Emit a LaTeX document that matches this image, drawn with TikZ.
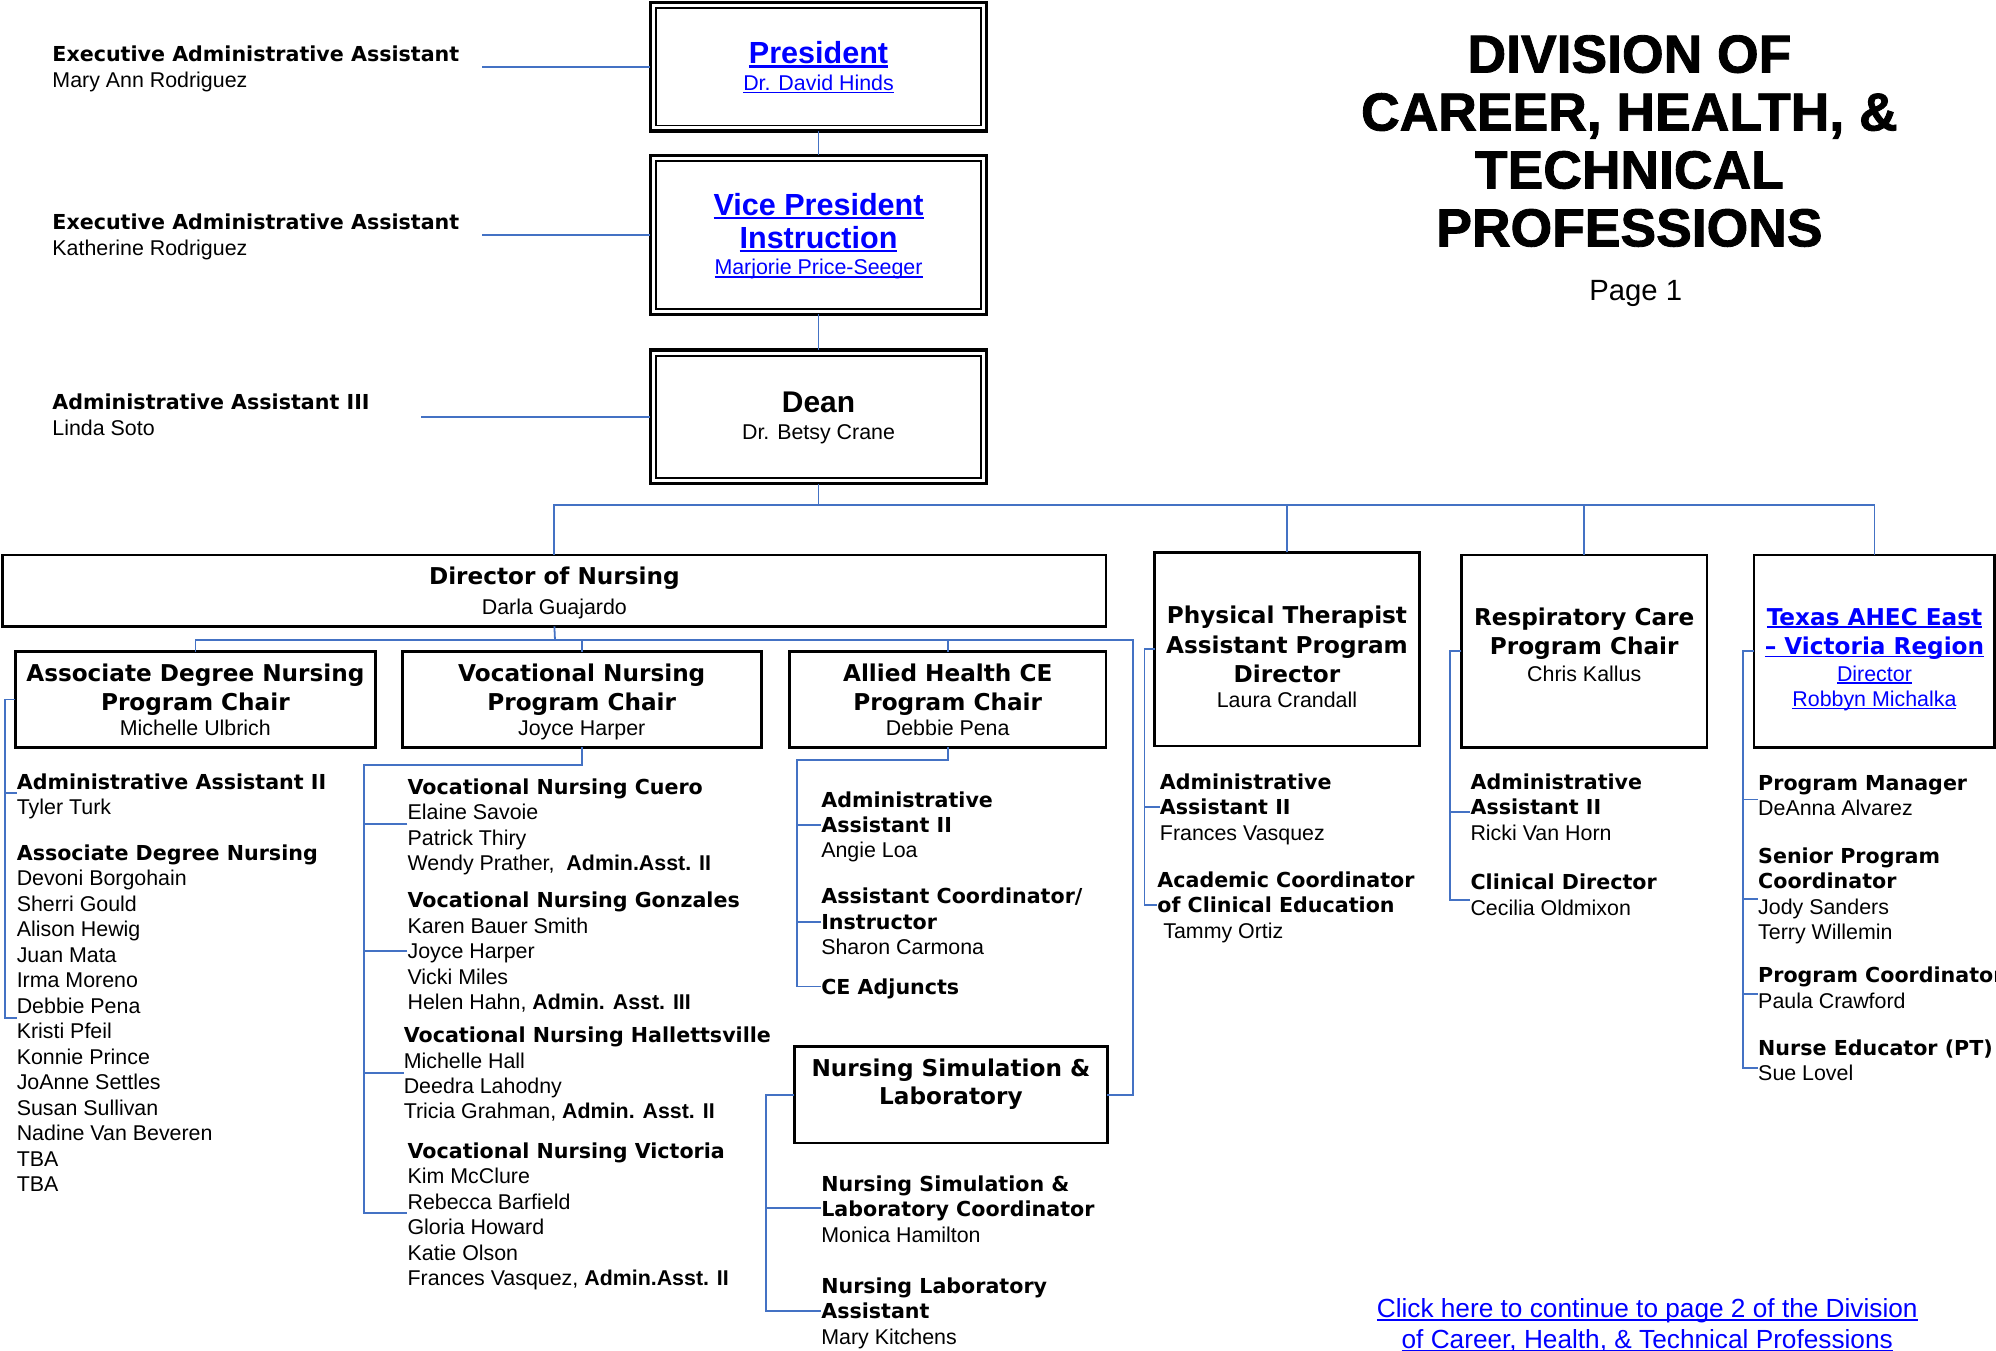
\documentclass[tikz,border=0pt]{standalone}
\usepackage{fontspec}
\setmainfont{Liberation Sans}
\newfontfamily\dv{DejaVu Sans}
\newfontfamily\heavy{Liberation Sans Bold}[FakeBold=1.6]
\definecolor{orgline}{RGB}{68,114,196}
\definecolor{linkblue}{RGB}{0,0,255}
% type sizes (1pt = one unit of the drawing grid)
\newcommand\fbody{\fontsize{16.8}{20}\selectfont}
\newcommand\fhd{\dv\bfseries\fontsize{16.2}{20}\selectfont}
\newcommand\fbh{\dv\bfseries\fontsize{18.2}{23}\selectfont}
% underlined hyperlink look
\newcommand\lk[1]{\setbox0\hbox{#1}\rlap{\rule[-0.13em]{\wd0}{0.07em}}\box0}
\newcommand\Lt[1]{\begin{tabular}[t]{@{}l@{}}#1\end{tabular}}
\newcommand\Ct[1]{\begin{tabular}[t]{@{}c@{}}#1\end{tabular}}
\tikzset{
  conn/.style={draw=orgline, line width=1.4pt},
  sbox/.style={draw=black, line width=2pt, inner sep=0pt, outer sep=0pt},
  dbox/.style={draw=black, line width=2.6pt, inner sep=0pt, outer sep=0pt},
  txt/.style={anchor=base west, inner sep=0pt, font=\fbody},
  ctxt/.style={anchor=base, inner sep=0pt, font=\fbody},
}
\newcommand\innerframe[1]{\draw[line width=1.3pt]
  ([shift={(4.5pt,-4.5pt)}]#1.north west) rectangle ([shift={(-4.5pt,4.5pt)}]#1.south east);}
\begin{document}
\begin{tikzpicture}[x=1pt,y=-1pt]
\fill[white] (0,0) rectangle (1568,1061);
\useasboundingbox (0,0) rectangle (1568,1061);
\clip (0,0) rectangle (1568,1061);

% ---------- executive boxes ----------
\node[dbox, minimum width=264pt, minimum height=101pt] (pres) at (643,52.5) {};
\node[dbox, minimum width=264pt, minimum height=125pt] (vp) at (643,184.5) {};
\node[dbox, minimum width=264pt, minimum height=105pt] (dean) at (643,327.5) {};
\innerframe{pres}\innerframe{vp}\innerframe{dean}

\node[ctxt, text=linkblue, font=\bfseries\fontsize{24}{26}\selectfont] (presH) at (643,50) {\lk{President}};
\node[ctxt, text=linkblue] (presN) at (643,71) {\lk{Dr. David Hinds}};
\node[ctxt, text=linkblue, font=\bfseries\fontsize{24}{26}\selectfont] (vpH) at (643,169) {\Ct{\lk{Vice President}\\\lk{Instruction}}};
\node[ctxt, text=linkblue] (vpN) at (643,216) {\lk{Marjorie Price-Seeger}};
\node[ctxt, font=\bfseries\fontsize{23.5}{26}\selectfont] (deanH) at (643,324) {Dean};
\node[ctxt] (deanN) at (643,345) {Dr. Betsy Crane};

% ---------- staff beside the executive boxes ----------
\node[txt, font=\fontsize{16.8}{21}\selectfont] (ea1) at (41,48) {\Lt{{\fhd Executive Administrative Assistant}\\Mary Ann Rodriguez}};
\node[txt, font=\fontsize{16.8}{21}\selectfont] (ea2) at (41,180) {\Lt{{\fhd Executive Administrative Assistant}\\Katherine Rodriguez}};
\node[txt, font=\fontsize{16.8}{20}\selectfont] (aa3) at (41,322) {\Lt{{\fhd Administrative Assistant III}\\Linda Soto}};
\coordinate (ea1e) at (379,52.5);
\coordinate (ea2e) at (379,184.5);
\coordinate (aa3e) at (331,327.5);
\draw[conn] (ea1e) -- (pres.west);
\draw[conn] (ea2e) -- (vp.west);
\draw[conn] (aa3e) -- (dean.west);
\draw[conn] (pres.south) -- (vp.north);
\draw[conn] (vp.south) -- (dean.north);

% ---------- title ----------
\node[anchor=base, inner sep=0pt, font=\heavy\fontsize{42}{45.5}\selectfont] (title) at (1280,57)
  {\Ct{DIVISION OF\\CAREER, HEALTH, \&\\TECHNICAL\\PROFESSIONS}};
\node[anchor=base, inner sep=0pt, font=\fontsize{23}{27}\selectfont] (page) at (1285,236) {Page 1};

% ---------- second level ----------
\node[sbox, minimum width=867pt, minimum height=56pt] (don) at (435.5,464) {};
\node[sbox, minimum width=208pt, minimum height=152pt] (pta) at (1011,510) {};
\node[sbox, minimum width=193pt, minimum height=151pt] (rc) at (1244.5,511.5) {};
\node[sbox, minimum width=189pt, minimum height=151pt] (ahec) at (1472.5,511.5) {};

\node[ctxt, font=\fbh] (donH) at (435.5,459) {Director of Nursing};
\node[ctxt] (donN) at (435.5,483) {Darla Guajardo};
\node[ctxt, font=\fbh] (ptaH) at (1011,490) {\Ct{Physical Therapist\\Assistant Program\\Director}};
\node[ctxt] (ptaN) at (1011,556) {Laura Crandall};
\node[ctxt, font=\fbh] (rcH) at (1244.5,491) {\Ct{Respiratory Care\\Program Chair}};
\node[ctxt] (rcN) at (1244.5,535) {Chris Kallus};
\node[ctxt, font=\fbh, text=linkblue] (ahecH) at (1472.5,491) {\Ct{\lk{Texas AHEC East}\\\lk{– Victoria Region}}};
\node[ctxt, text=linkblue] (ahecN) at (1472.5,535) {\Ct{\lk{Director}\\\lk{Robbyn Michalka}}};

\coordinate (bus) at (643,397);
\draw[conn] (dean.south) -- (bus);
\draw[conn] (don.north) |- (ahec.north |- bus) -- (ahec.north);
\draw[conn] (pta.north) -- (pta.north |- bus);
\draw[conn] (rc.north) -- (rc.north |- bus);

% ---------- nursing programmes ----------
\node[sbox, minimum width=283pt, minimum height=75pt] (adn) at (153.5,549.5) {};
\node[sbox, minimum width=282pt, minimum height=75pt] (vn) at (457,549.5) {};
\node[sbox, minimum width=249pt, minimum height=75pt] (ahce) at (744.5,549.5) {};
\node[sbox, minimum width=246pt, minimum height=76pt] (ns) at (747,860) {};

\node[ctxt, font=\fbh] (adnH) at (153.5,535) {\Ct{Associate Degree Nursing\\Program Chair}};
\node[ctxt] (adnN) at (153.5,578) {Michelle Ulbrich};
\node[ctxt, font=\fbh] (vnH) at (457,535) {\Ct{Vocational Nursing\\Program Chair}};
\node[ctxt] (vnN) at (457,578) {Joyce Harper};
\node[ctxt, font=\fbh] (ahceH) at (744.5,535) {\Ct{Allied Health CE\\Program Chair}};
\node[ctxt] (ahceN) at (744.5,578) {Debbie Pena};
\node[ctxt, font=\fontsize{18.2}{22}\selectfont] (nsH) at (747,846) {\Ct{{\fbh Nursing Simulation \&}\\{\fbh Laboratory}}};

\coordinate (nbus) at (436,503);
\coordinate (nright) at (890,503);
\draw[conn] (don.south) -- (nbus);
\draw[conn] (adn.north) |- (nright) |- (ns.east);
\draw[conn] (vn.north) -- (vn.north |- nbus);
\draw[conn] (ahce.north) -- (ahce.north |- nbus);

% Associate Degree Nursing staff
\node[txt] (adnA) at (13,620) {\Lt{{\fhd Administrative Assistant II}\\Tyler Turk}};
\node[txt] (adnB) at (13,676) {\Lt{{\fhd Associate Degree Nursing}\\Devoni Borgohain\\Sherri Gould\\Alison Hewig\\Juan Mata\\Irma Moreno\\Debbie Pena\\Kristi Pfeil\\Konnie Prince\\JoAnne Settles\\Susan Sullivan\\Nadine Van Beveren\\TBA\\TBA}};
\coordinate (adnT1) at (13,623);
\coordinate (adnT2) at (13,800);
\draw[conn] (adn.west) -- ++(-8pt,0) |- (adnT2);
\draw[conn] (adnT1) -- ++(-9pt,0);

% Vocational Nursing sites
\node[txt] (vnA) at (320,624) {\Lt{{\fhd Vocational Nursing Cuero}\\Elaine Savoie\\Patrick Thiry\\Wendy Prather,\ \ \textbf{Admin.Asst. II}}};
\node[txt] (vnB) at (320,713) {\Lt{{\fhd Vocational Nursing Gonzales}\\Karen Bauer Smith\\Joyce Harper\\Vicki Miles\\Helen Hahn, \textbf{Admin. Asst. III}}};
\node[txt] (vnC) at (317,819) {\Lt{{\fhd Vocational Nursing Hallettsville}\\Michelle Hall\\Deedra Lahodny\\Tricia Grahman, \textbf{Admin. Asst. II}}};
\node[txt] (vnD) at (320,910) {\Lt{{\fhd Vocational Nursing Victoria}\\Kim McClure\\Rebecca Barfield\\Gloria Howard\\Katie Olson\\Frances Vasquez, \textbf{Admin.Asst. II}}};
\coordinate (vnT1) at (320,647);
\coordinate (vnT2) at (320,747);
\coordinate (vnT3) at (317,843);
\coordinate (vnT4) at (320,953);
\draw[conn] (vn.south) -- ++(0,-14pt) -| ([xshift=-34pt]vnT4) -- (vnT4);
\draw[conn] (vnT1) -- ++(-34pt,0);
\draw[conn] (vnT2) -- ++(-34pt,0);
\draw[conn] (vnT3) -- ++(-31pt,0);

% Allied Health CE staff
\node[txt] (alA) at (645,634) {\Lt{{\fhd Administrative}\\{\fhd Assistant II}\\Angie Loa}};
\node[txt] (alB) at (645,710) {\Lt{{\fhd Assistant Coordinator/}\\{\fhd Instructor}\\Sharon Carmona}};
\node[txt] (alC) at (645,781) {{\fhd CE Adjuncts}};
\coordinate (alT1) at (645,648);
\coordinate (alT2) at (645,724);
\coordinate (alT3) at (645,775);
\draw[conn] (ahce.south) -- ++(0,-10pt) -| ([xshift=-19pt]alT3) -- (alT3);
\draw[conn] (alT1) -- ++(-19pt,0);
\draw[conn] (alT2) -- ++(-19pt,0);

% Nursing Simulation & Laboratory staff
\node[txt] (nsA) at (645,936) {\Lt{{\fhd Nursing Simulation \&}\\{\fhd Laboratory Coordinator}\\Monica Hamilton}};
\node[txt] (nsB) at (645,1016) {\Lt{{\fhd Nursing Laboratory}\\{\fhd Assistant}\\Mary Kitchens}};
\coordinate (nsT1) at (645,949);
\coordinate (nsT2) at (645,1030);
\draw[conn] (ns.west) -- ++(-22pt,0) |- (nsT2);
\draw[conn] (nsT1) -- ++(-43pt,0);

% Physical Therapist Assistant staff
\node[txt] (ptA) at (911,620) {\Lt{{\fhd Administrative}\\{\fhd Assistant II}\\Frances Vasquez}};
\node[txt] (ptB) at (909,697) {\Lt{{\fhd Academic Coordinator}\\{\fhd of Clinical Education}\\\ Tammy Ortiz}};
\coordinate (ptT1) at (911,634);
\coordinate (ptT2) at (909,711);
\draw[conn] (pta.west) -- ++(-8pt,0) |- (ptT2);
\draw[conn] (ptT1) -- ++(-12pt,0);

% Respiratory Care staff
\node[txt] (rcA) at (1155,620) {\Lt{{\fhd Administrative}\\{\fhd Assistant II}\\Ricki Van Horn}};
\node[txt] (rcB) at (1155,699) {\Lt{{\fhd Clinical Director}\\Cecilia Oldmixon}};
\coordinate (rcT1) at (1155,638);
\coordinate (rcT2) at (1155,707);
\draw[conn] (rc.west) -- ++(-9pt,0) |- (rcT2);
\draw[conn] (rcT1) -- ++(-16pt,0);

% Texas AHEC East staff
\node[txt] (ahA) at (1381,621) {\Lt{{\fhd Program Manager}\\DeAnna Alvarez}};
\node[txt] (ahB) at (1381,678) {\Lt{{\fhd Senior Program}\\{\fhd Coordinator}\\Jody Sanders\\Terry Willemin}};
\node[txt] (ahC) at (1381,772) {\Lt{{\fhd Program Coordinator}\\Paula Crawford}};
\node[txt] (ahD) at (1381,829) {\Lt{{\fhd Nurse Educator (PT)}\\Sue Lovel}};
\coordinate (ahT1) at (1381,628);
\coordinate (ahT2) at (1381,706);
\coordinate (ahT3) at (1381,781);
\coordinate (ahT4) at (1381,839);
\draw[conn] (ahec.west) -- ++(-9pt,0) |- (ahT4);
\draw[conn] (ahT1) -- ++(-12pt,0);
\draw[conn] (ahT2) -- ++(-12pt,0);
\draw[conn] (ahT3) -- ++(-12pt,0);

% ---------- link to the next page ----------
\node[anchor=base, inner sep=0pt, text=linkblue, font=\fontsize{20.6}{24}\selectfont] (more) at (1294,1035)
  {\Ct{\lk{Click here to continue to page 2 of the Division}\\\lk{of Career, Health, \& Technical Professions}}};
\end{tikzpicture}
\end{document}
